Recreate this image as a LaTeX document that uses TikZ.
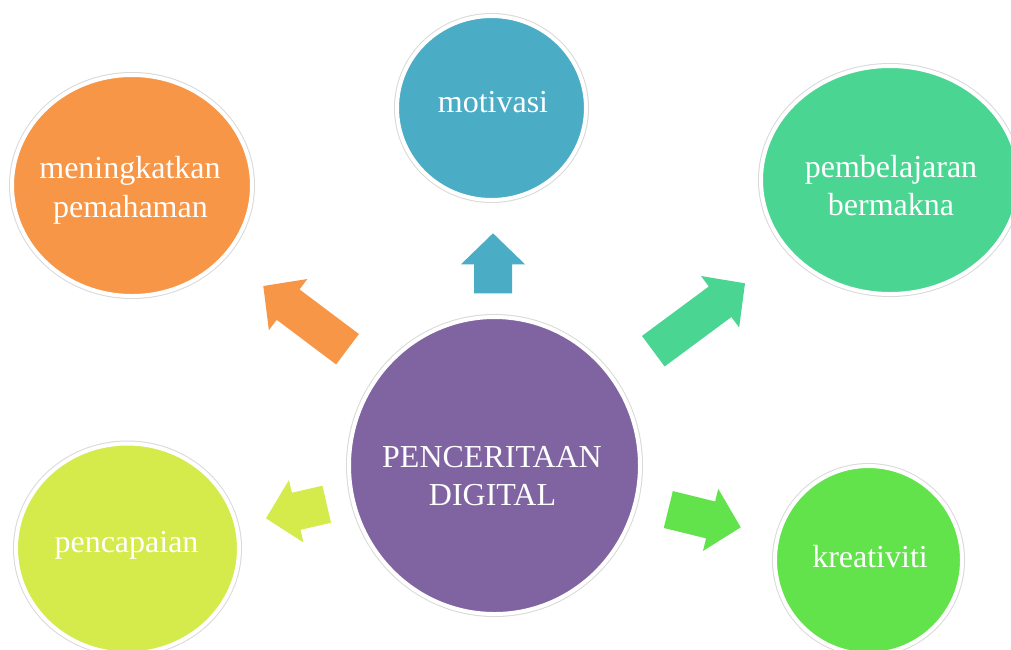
\documentclass[tikz,border=0pt]{standalone}
\usepackage{fontspec}
\setmainfont{Liberation Serif}
\usetikzlibrary{shapes.geometric,calc}
\definecolor{cpurple}{HTML}{8064A2}
\definecolor{corange}{HTML}{F79646}
\definecolor{cblue}{HTML}{4BACC6}
\definecolor{cgreenA}{HTML}{4BD593}
\definecolor{clime}{HTML}{D4EB4B}
\definecolor{cgreenB}{HTML}{62E24B}
\tikzset{
  bubble/.style={ellipse, inner sep=0pt, fill=#1, draw=white, line width=4pt,
    preaction={draw=gray!30, line width=6pt}},
  lbl/.style={anchor=base, text=white, font=\fontsize{32}{38}\selectfont, inner sep=0pt},
  blockarrow/.style={fill=#1, draw=none}
}
\newcommand\blockarr[3]{%
  \coordinate (n) at ($(#3)!31pt!(#2)$);
  \fill[blockarrow=#1]
    ($(#2)!19pt!90:(#3)$) -- ($(n)!19pt!90:(#3)$) -- ($(n)!32pt!90:(#3)$) -- (#3)
    -- ($(n)!32pt!-90:(#3)$) -- ($(n)!19pt!-90:(#3)$) -- ($(#2)!19pt!-90:(#3)$) -- cycle;}
\begin{document}
\begin{tikzpicture}[x=1pt,y=-1pt]
\clip (0,0) rectangle (1011,649);
\fill[white] (0,0) rectangle (1011,649);
% bubbles
\node[bubble=cpurple, minimum width=291pt, minimum height=297pt] (center) at (494.5,465.5) {};
\node[bubble=cblue, minimum width=189pt, minimum height=184pt] (motiv) at (491.5,108) {};
\node[bubble=corange, minimum width=240pt, minimum height=221pt] (mening) at (132,185.5) {};
\node[bubble=cgreenA, minimum width=258pt, minimum height=228pt] (pembel) at (890,180) {};
\node[bubble=clime, minimum width=223pt, minimum height=210pt] (pencap) at (127.5,548.5) {};
\node[bubble=cgreenB, minimum width=187pt, minimum height=188pt] (kreat) at (868.5,560) {};
% labels
\node[lbl] (t1a) at (492,467) {PENCERITAAN};
\node[lbl] (t1b) at (492.5,505) {DIGITAL};
\node[lbl] (t2) at (493,112) {motivasi};
\node[lbl] (t3a) at (130,178) {meningkatkan};
\node[lbl] (t3b) at (130.5,217) {pemahaman};
\node[lbl] (t4a) at (891,177) {pembelajaran};
\node[lbl] (t4b) at (891,215) {bermakna};
\node[lbl] (t5) at (126.5,552) {pencapaian};
\node[lbl] (t6) at (870,567) {kreativiti};
% arrows
\coordinate (aOb) at (347.5,349.2); \coordinate (aOt) at (263.3,286);
\coordinate (aBb) at (493,293.3);   \coordinate (aBt) at (493,233.3);
\coordinate (aGb) at (653.3,351.2); \coordinate (aGt) at (745,283.3);
\coordinate (aLb) at (326.7,504.2); \coordinate (aLt) at (266,518.3);
\coordinate (aKb) at (668.3,509.5); \coordinate (aKt) at (740.7,527.3);
\blockarr{corange}{aOb}{aOt}
\blockarr{cblue}{aBb}{aBt}
\blockarr{cgreenA}{aGb}{aGt}
\blockarr{clime}{aLb}{aLt}
\blockarr{cgreenB}{aKb}{aKt}
\end{tikzpicture}
\end{document}
